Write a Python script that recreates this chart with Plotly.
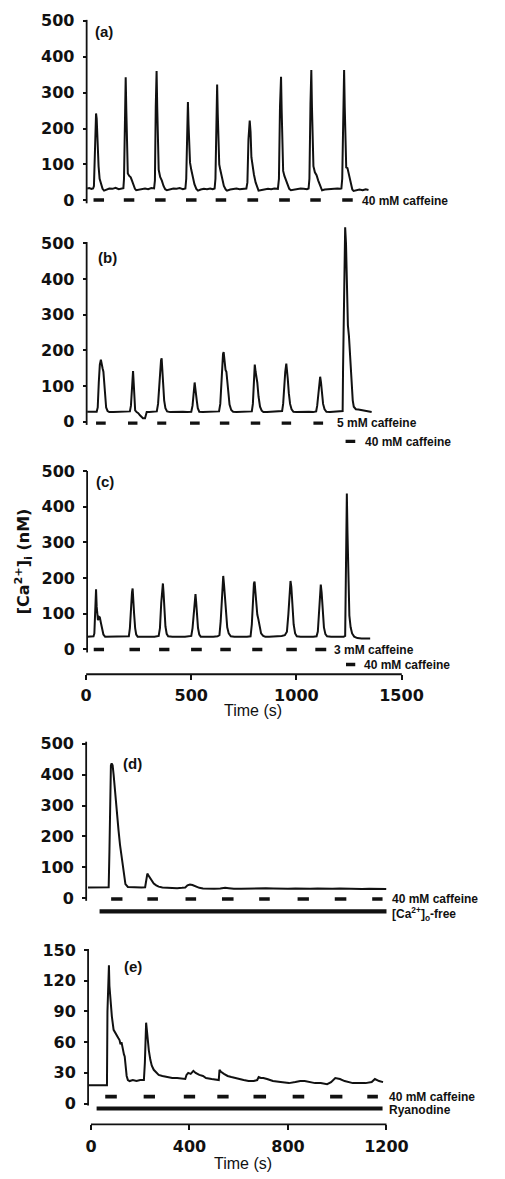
import plotly.graph_objects as go

W, H = 505, 1179

# ---------------- data ----------------
# (a) 40 mM caffeine, repeated
a_t = [5, 15, 25, 33, 37, 41, 44, 47, 50, 53, 56, 59, 64, 70, 78, 85,
       95, 110, 125, 140, 155, 170, 177,
       180, 184, 188, 191, 194, 198, 205, 212, 218, 225, 232, 238,
       250, 265, 280, 295, 310, 323,
       327, 331, 335, 338, 341, 345, 352, 360, 368, 376, 384,
       400, 415, 430, 445, 460, 472,
       476, 480, 484, 487, 490, 494, 500, 507, 515, 524, 532,
       545, 560, 575, 590, 602, 611,
       615, 619, 623, 626, 629, 633, 638, 645, 655, 664, 670,
       685, 700, 715, 730, 745, 762,
       767, 772, 778, 782, 786, 791, 798, 806, 814, 820,
       835, 850, 865, 880, 895, 912,
       917, 922, 927, 930, 933, 937, 943, 950, 958, 966, 974,
       990, 1005, 1020, 1035, 1050, 1058,
       1062, 1067, 1071, 1074, 1077, 1081, 1088, 1096, 1104, 1113, 1122,
       1135, 1150, 1165, 1180, 1195, 1208, 1214,
       1218, 1223, 1227, 1230, 1233, 1237, 1243, 1250, 1258, 1266, 1272,
       1285, 1300, 1315, 1330, 1343]
a_y = [33, 34, 32, 33, 40, 150, 225, 242, 228, 160, 110, 95, 60, 45, 32, 27,
       30, 33, 32, 35, 31, 33, 34,
       60, 250, 343, 250, 110, 75, 68, 64, 55, 42, 32, 28,
       30, 31, 33, 31, 34, 33,
       55, 260, 360, 260, 120, 85, 65, 55, 40, 31, 28,
       31, 33, 32, 34, 31, 33,
       60, 200, 274, 210, 130, 105, 85, 65, 45, 32, 27,
       30, 32, 31, 33, 31, 33,
       60, 240, 323, 240, 120, 100, 85, 65, 40, 30, 27,
       30, 31, 33, 31, 32, 33,
       50, 170, 222, 190, 120, 95, 72, 50, 33, 27,
       29, 31, 32, 31, 33, 32,
       60, 260, 344, 250, 110, 82, 68, 58, 42, 32, 28,
       30, 31, 33, 32, 31, 33,
       60, 270, 363, 260, 120, 95, 78, 70, 55, 38, 28,
       30, 31, 32, 31, 33, 32, 33,
       60, 270, 363, 260, 120, 92, 90, 70, 45, 30, 26,
       28, 30, 28, 31, 29]
a_caf40_on = [35, 179, 328, 475, 616, 767, 918, 1066, 1218]
a_caf40_off = [85, 229, 378, 525, 666, 818, 969, 1116, 1268]

# (b) 5 mM caffeine, then 40 mM caffeine
b_t = [5, 20, 35, 50,
       55, 60, 65, 70, 74, 78, 82, 86, 90, 95, 102, 110,
       130, 150, 170, 190, 208,
       213, 218, 223, 226, 229, 233, 240,
       248, 256, 264, 270, 280, 284, 288,
       300, 320, 336,
       342, 348, 352, 356, 359, 362, 366, 371, 377, 385,
       400, 420, 440, 460, 480, 500,
       506, 511, 516, 519, 522, 526, 531, 538,
       555, 575, 595, 615, 632,
       638, 643, 647, 651, 654, 658, 663, 667, 671, 676, 682, 690, 699,
       715, 735, 755, 775, 788,
       793, 798, 802, 806, 810, 814, 820, 827, 835, 843,
       860, 880, 900, 920, 932,
       937, 942, 947, 952, 955, 959, 964, 970, 977, 986,
       1000, 1020, 1040, 1060, 1080, 1094,
       1099, 1104, 1109, 1113, 1117, 1121, 1127, 1134, 1143,
       1160, 1180, 1200, 1215, 1220,
       1222, 1225, 1228, 1232, 1236, 1240, 1245, 1250, 1254, 1258, 1263, 1268, 1273, 1283,
       1295, 1310, 1330, 1345, 1358]
b_y = [28, 27, 28, 28,
       40, 110, 160, 174, 155, 150, 140, 110, 70, 40, 30, 27,
       27, 28, 27, 28, 29,
       45, 110, 142, 110, 60, 32, 27,
       24, 18, 12, 10, 10, 20, 27,
       27, 28, 29,
       50, 110, 140, 172, 178, 150, 100, 60, 38, 29,
       27, 28, 27, 28, 27, 28,
       45, 80, 110, 95, 85, 60, 38, 28,
       27, 28, 27, 28, 29,
       50, 110, 170, 190, 195, 170, 145, 140, 110, 75, 48, 33, 28,
       27, 28, 27, 28, 29,
       50, 120, 160, 140, 128, 110, 70, 42, 31, 27,
       27, 28, 27, 28, 30,
       50, 100, 140, 163, 150, 120, 80, 50, 35, 28,
       27, 28, 27, 28, 27, 29,
       45, 80, 115, 126, 110, 80, 50, 35, 28,
       27, 28, 27, 28, 30,
       150, 330, 500, 545, 500, 400, 270, 240, 200, 160, 100, 60, 42, 35,
       34, 32, 30, 28, 27]
b_caf5_on = [47, 199, 338, 494, 636, 783, 930, 1081]
b_caf5_off = [93, 244, 381, 540, 681, 828, 975, 1127]
b_caf40_on = [1234]
b_caf40_off = [1280]

# (c) 3 mM caffeine, then 40 mM caffeine
c_t = [5, 20, 35,
       39, 43, 47, 50, 53, 56, 60, 65, 70, 76, 82, 90,
       110, 130, 150, 170, 190, 203,
       208, 213, 218, 221, 224, 228, 233, 238, 245,
       265, 285, 305, 325, 345,
       351, 357, 362, 365, 368, 372, 377, 383, 390,
       410, 430, 450, 470, 490, 500,
       506, 512, 517, 520, 523, 527, 532, 538, 545,
       565, 585, 605, 625, 634,
       640, 645, 649, 652, 656, 660, 665, 671, 678, 688,
       705, 725, 745, 765, 782,
       788, 793, 798, 801, 805, 809, 814, 819, 825, 832, 842, 852,
       870, 890, 910, 930, 945,
       955, 962, 968, 972, 976, 981, 987, 994, 1002,
       1020, 1040, 1060, 1080, 1096,
       1102, 1108, 1113, 1116, 1120, 1125, 1131, 1138, 1146,
       1165, 1185, 1205, 1225, 1232,
       1235, 1238, 1240, 1243, 1247, 1252, 1258, 1265, 1275, 1290,
       1310, 1330, 1351]
c_y = [36, 36, 37,
       45, 130, 169, 120, 88, 82, 92, 90, 75, 55, 42, 36,
       36, 35, 36, 36, 35, 37,
       60, 120, 160, 171, 150, 100, 60, 42, 36,
       36, 35, 36, 36, 38,
       60, 130, 175, 185, 160, 110, 65, 44, 37,
       36, 35, 36, 36, 36, 38,
       60, 110, 145, 155, 135, 95, 60, 42, 36,
       36, 35, 36, 37, 40,
       80, 150, 200, 206, 180, 140, 95, 62, 45, 37,
       36, 35, 36, 36, 37,
       70, 140, 185, 190, 160, 120, 98, 85, 60, 45, 38, 36,
       36, 36, 37, 38, 40,
       50, 100, 160, 192, 175, 120, 70, 45, 37,
       36, 35, 36, 36, 37,
       50, 110, 165, 182, 160, 105, 62, 43, 37,
       36, 36, 35, 36, 38,
       200, 400, 437, 330, 170, 95, 62, 45, 36, 32,
       31, 31, 31]
c_caf3_on = [36, 206, 347, 499, 638, 790, 952, 1090]
c_caf3_off = [85, 256, 396, 550, 688, 838, 1002, 1142]
c_caf40_on = [1236]
c_caf40_off = [1280]

# (d) 40 mM caffeine in [Ca2+]o-free solution
d_t = [-12, 0, 20, 40, 60, 72, 75, 78, 81, 84, 88, 92, 96, 100, 106, 112, 118,
       125, 131, 136, 140, 150, 170, 190, 205, 220, 225, 229, 233, 240, 247,
       255, 265, 275, 290, 310, 330, 350, 370, 383, 392, 402, 412, 425, 440,
       455, 475, 500, 525, 545, 560, 580, 610, 640, 670, 690, 710, 740, 770,
       800, 830, 860, 890, 920, 950, 980, 1010, 1040, 1070, 1100, 1130, 1160,
       1185, 1199]
d_y = [35, 35, 36, 35, 35, 36, 150, 380, 430, 436, 430, 400, 360, 334, 270, 220, 173,
       130, 90, 60, 46, 37, 36, 35, 35, 36, 60, 80, 75, 65, 56,
       48, 42, 38, 35, 34, 33, 33, 34, 35, 42, 45, 43, 38, 34,
       32, 31, 31, 32, 34, 33, 31, 31, 32, 32, 34, 33, 32, 31,
       31, 32, 31, 31, 32, 31, 31, 32, 31, 31, 30, 31, 30,
       30, 30]
d_caf40_on = [82, 229, 384, 532, 683, 839, 990, 1142]
d_caf40_off = [128, 272, 427, 579, 726, 885, 1037, 1184]
d_cafree_on = [35]
d_cafree_off = [1200]

# (e) 40 mM caffeine with ryanodine
e_t = [-12, 0, 20, 40, 60, 65, 67, 71, 73, 75, 79, 85, 92, 100, 107, 111, 116,
       120, 124, 127, 131, 134, 137, 141, 145, 150, 157, 170, 185, 200, 215,
       219, 222, 224, 227, 231, 235, 241, 247, 255, 265, 275, 290, 312, 330,
       350, 370, 383, 388, 395, 405, 416, 425, 440, 455, 467, 490, 510, 519,
       522, 528, 540, 555, 570, 597, 620, 640, 661, 675, 681, 690, 700, 715,
       739, 770, 804, 830, 850, 868, 885, 910, 933, 959, 975, 992, 1011, 1030,
       1063, 1090, 1115, 1140, 1153, 1170, 1186]
e_y = [18, 18, 18, 18, 18, 18, 90, 125, 135, 115, 98, 85, 72, 68, 65, 64, 62,
       58, 60, 55, 52, 48, 46, 35, 27, 23, 22, 23, 22, 23, 23,
       40, 70, 79, 72, 60, 52, 43, 37, 33, 30, 28, 27, 26, 25,
       25, 24, 24, 28, 30, 29, 32, 30, 28, 27, 25, 24, 23, 23,
       33, 31, 29, 27, 26, 24, 23, 22, 22, 23, 26, 25, 25, 24,
       22, 21, 20, 21, 22, 22, 21, 20, 20, 19, 21, 25, 24, 22,
       20, 20, 20, 21, 24, 22, 21]
e_caf40_on = [58, 214, 377, 513, 660, 819, 971, 1122]
e_caf40_off = [105, 260, 423, 559, 711, 866, 1021, 1165]
e_ryan_on = [23]
e_ryan_off = [1184]

abc_yticks = [0, 100, 200, 300, 400, 500]
d_yticks = [0, 100, 200, 300, 400, 500]
e_yticks = [0, 30, 60, 90, 120, 150]
c_xticks = [0, 500, 1000, 1500]
e_xticks = [0, 400, 800, 1200]

# ---------------- layout geometry (pixels) ----------------
geo = {
    1: dict(yz=197.0, ky=0.362, top=12, bot=202, xz=88.0, kx=0.2198, l=84, r=420),
    2: dict(yz=420.3, ky=0.360, top=219, bot=446, xz=88.0, kx=0.2198, l=84, r=420),
    3: dict(yz=650.0, ky=0.360, top=465, bot=679, xz=88.0, kx=0.2198, l=84, r=420),
    4: dict(yz=901.0, ky=0.312, top=738, bot=919, xz=93.0, kx=0.2575, l=84, r=410),
    5: dict(yz=1108.0, ky=1.033, top=945, bot=1132, xz=93.0, kx=0.2575, l=84, r=410),
}
yaxis_px = {1: 88.5, 2: 88.5, 3: 89.0, 4: 88.0, 5: 90.0}
yline_px = {1: (15, 200), 2: (239, 423.5), 3: (470, 653), 4: (743, 903.5), 5: (952, 1110)}


def px(x):
    return x / W


def py(y):
    return 1 - y / H


INK = "#111111"
TICKFONT = dict(family="DejaVu Sans", size=16, color=INK, weight="bold")
LABFONT = dict(family="Liberation Sans", size=12, color=INK)

fig = go.Figure()


def bars(on, off, yval):
    xs, ys = [], []
    for s, e in zip(on, off):
        xs += [s, e, None]
        ys += [yval, yval, None]
    return xs, ys


def add_panel(n, t, y, dash_sets):
    xa = "x" if n == 1 else f"x{n}"
    ya = "y" if n == 1 else f"y{n}"
    fig.add_trace(go.Scatter(x=t, y=y, mode="lines", line=dict(color=INK, width=2.0),
                             xaxis=xa, yaxis=ya, hoverinfo="skip"))
    for on, off, yv, w in dash_sets:
        xs, ys = bars(on, off, yv)
        fig.add_trace(go.Scatter(x=xs, y=ys, mode="lines", line=dict(color=INK, width=w),
                                 xaxis=xa, yaxis=ya, hoverinfo="skip"))


add_panel(1, a_t, a_y, [(a_caf40_on, a_caf40_off, 1, 3.4)])
add_panel(2, b_t, b_y, [(b_caf5_on, b_caf5_off, -4, 3.4), (b_caf40_on, b_caf40_off, -55, 3.4)])
add_panel(3, c_t, c_y, [(c_caf3_on, c_caf3_off, 0, 3.4), (c_caf40_on, c_caf40_off, -42, 3.4)])
add_panel(4, d_t, d_y, [(d_caf40_on, d_caf40_off, -2, 3.6), (d_cafree_on, d_cafree_off, -42, 4.2)])
add_panel(5, e_t, e_y, [(e_caf40_on, e_caf40_off, 6.8, 3.6), (e_ryan_on, e_ryan_off, -4.8, 4.2)])

layout = dict(width=W, height=H, margin=dict(l=0, r=0, t=0, b=0),
              paper_bgcolor="white", plot_bgcolor="rgba(0,0,0,0)", showlegend=False)

yt = {1: abc_yticks, 2: abc_yticks, 3: abc_yticks, 4: d_yticks, 5: e_yticks}
for n, g in geo.items():
    xr = [(g["l"] - g["xz"]) / g["kx"], (g["r"] - g["xz"]) / g["kx"]]
    yr = [(g["yz"] - g["bot"]) / g["ky"], (g["yz"] - g["top"]) / g["ky"]]
    xa = dict(domain=[px(g["l"]), px(g["r"])], range=xr, showgrid=False, zeroline=False,
              showline=False, fixedrange=True)
    if n == 3 or n == 5:
        line_y = 675 if n == 3 else 1129
        xa.update(anchor="free", position=py(line_y), ticks="outside", ticklen=5,
                  tickwidth=1.6, tickcolor=INK, tickvals=c_xticks if n == 3 else e_xticks,
                  tickfont=TICKFONT, ticklabelstandoff=2)
    else:
        xa.update(visible=False, anchor="y" if n == 1 else f"y{n}")
    ya = dict(domain=[py(g["bot"]), py(g["top"])], range=yr, showgrid=False, zeroline=False,
              showline=False, anchor="free", position=px(yaxis_px[n]), ticks="outside",
              ticklen=4, tickwidth=1.6, tickcolor=INK, tickvals=yt[n], tickfont=TICKFONT,
              ticklabelstandoff=5, fixedrange=True)
    layout["xaxis" if n == 1 else f"xaxis{n}"] = xa
    layout["yaxis" if n == 1 else f"yaxis{n}"] = ya

fig.update_layout(**layout)

shapes = []
for n in geo:
    y0, y1 = yline_px[n]
    shapes.append(dict(type="line", xref="paper", yref="paper", x0=px(yaxis_px[n]),
                       x1=px(yaxis_px[n]), y0=py(y0), y1=py(y1),
                       line=dict(color=INK, width=1.8)))
shapes.append(dict(type="line", xref="paper", yref="paper", x0=px(88), x1=px(418),
                   y0=py(675), y1=py(675), line=dict(color=INK, width=1.8)))
shapes.append(dict(type="line", xref="paper", yref="paper", x0=px(93), x1=px(402),
                   y0=py(1129), y1=py(1129), line=dict(color=INK, width=1.8)))
fig.update_layout(shapes=shapes)

ann = []


def text(x, y, s, font, xanchor="left", angle=0):
    ann.append(dict(x=px(x), y=py(y), xref="paper", yref="paper", text=s, showarrow=False,
                    xanchor=xanchor, yanchor="middle", font=font, textangle=angle))


PANEL = dict(family="Liberation Sans", size=15, color=INK)
text(107, 27, "<b>(a)</b>", PANEL, "center")
text(110, 255, "<b>(b)</b>", PANEL, "center")
text(108, 481, "<b>(c)</b>", PANEL, "center")
text(136, 765, "<b>(d)</b>", PANEL, "center")
text(137, 970, "<b>(e)</b>", PANEL, "center")

text(374, 198, "<b>40 mM caffeine</b>", LABFONT)
text(348, 422, "<b>5 mM caffeine</b>", LABFONT)
text(377, 441, "<b>40 mM caffeine</b>", LABFONT)
text(345, 651, "<b>3 mM caffeine</b>", LABFONT)
text(376, 666, "<b>40 mM caffeine</b>", LABFONT)
text(406, 902, "<b>40 mM caffeine</b>", LABFONT)
text(406, 917, "<b>[Ca<sup>2+</sup>]<sub>o</sub>-free</b>", LABFONT)
text(403, 1101, "<b>40 mM caffeine</b>", LABFONT)
text(403, 1114, "<b>Ryanodine</b>", LABFONT)

TITLE = dict(family="Liberation Sans", size=16, color=INK)
text(262, 712, "Time (s)", TITLE, "center")
text(252, 1168, "Time (s)", TITLE, "center")
text(22, 561, "<b>[Ca<sup>2+</sup>]<sub>i</sub> (nM)</b>",
     dict(family="DejaVu Sans", size=16, color=INK), "center", -90)

fig.update_layout(annotations=ann)
fig.write_html("out.html", config={"displayModeBar": False},
               post_script="document.body.style.margin='0';document.body.style.overflow='hidden';")
